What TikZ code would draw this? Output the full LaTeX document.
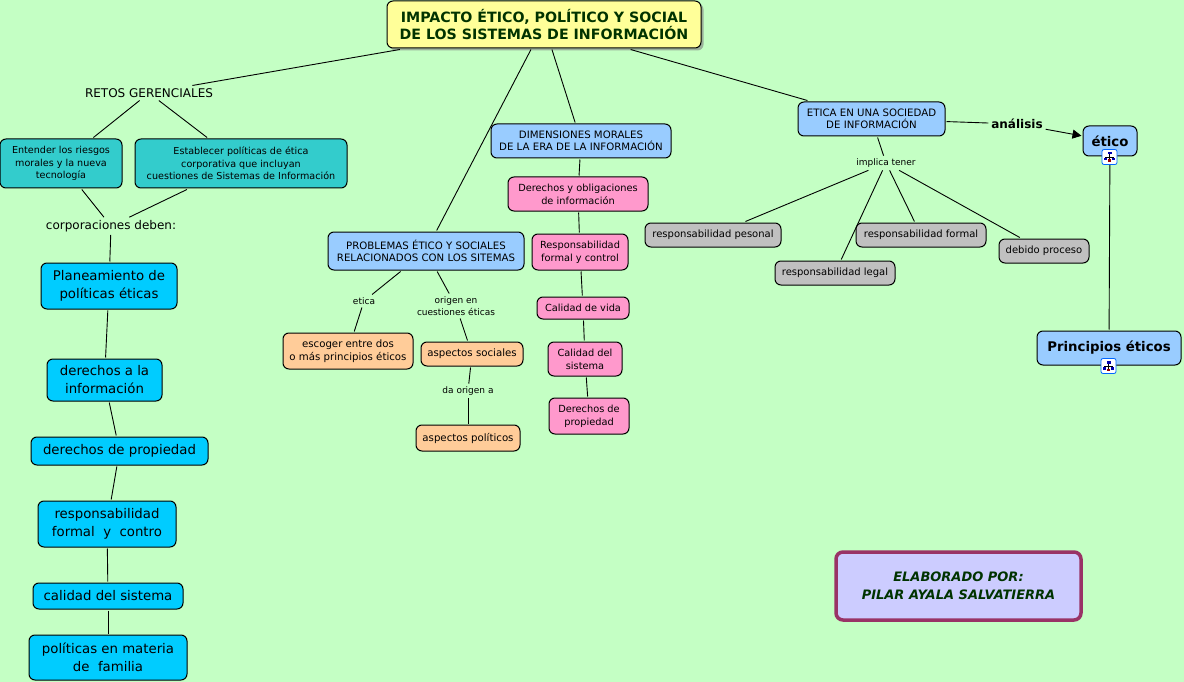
\documentclass[tikz,border=0pt]{standalone}
\usepackage{fontspec}
\setmainfont{DejaVu Sans}
\usetikzlibrary{arrows.meta,shadows}
\definecolor{bgc}{HTML}{C4FFC4}
\definecolor{yel}{HTML}{FFFF99}
\definecolor{blu}{HTML}{99CCFF}
\definecolor{tea}{HTML}{33CCCC}
\definecolor{cya}{HTML}{00CCFF}
\definecolor{pnk}{HTML}{FF99CC}
\definecolor{pch}{HTML}{FFCC99}
\definecolor{gry}{HTML}{C0C0C0}
\definecolor{lav}{HTML}{CCCCFF}
\definecolor{plum}{HTML}{993366}
\definecolor{dgreen}{HTML}{003300}
\newcommand{\fs}[2]{\fontsize{#1}{#2}\selectfont}
\tikzset{
  base/.style={draw=black,line width=1pt,rounded corners=6pt,align=center,inner sep=0pt,outer sep=1.5pt},
  rootbox/.style={base,fill=yel,text=dgreen,font=\fs{14.2}{17}\bfseries,drop shadow={shadow xshift=2.5pt,shadow yshift=-2.5pt,fill=gray,opacity=.6}},
  bluebox/.style={base,fill=blu,font=\fs{10.2}{11.5}},
  teabox/.style={base,fill=tea,font=\fs{9.6}{12.3}},
  cyabox/.style={base,fill=cya,font=\fs{13.3}{18}},
  pnkbox/.style={base,fill=pnk,font=\fs{9.8}{13}},
  pchbox/.style={base,fill=pch,font=\fs{10.2}{13}},
  grybox/.style={base,fill=gry,font=\fs{10}{13}},
  bigblue/.style={base,fill=blu,font=\fs{13.3}{16}\bfseries},
  creditbox/.style={draw=plum,line width=3.5pt,rounded corners=7pt,fill=lav,text=dgreen,align=center,inner sep=0pt,font=\fs{13}{17.5}\bfseries\itshape},
  lbl/.style={inner sep=1pt,outer sep=2pt,align=center},
  lblbig/.style={lbl,font=\fs{12}{14}},
  lblsmall/.style={lbl,font=\fs{9}{12}},
  lblsm/.style={lbl,font=\fs{9}{12}},
  link/.style={draw=black,line width=.9pt},
  iconbg/.style={draw=blue!60!cyan,fill=white,line width=.8pt,rounded corners=2pt,minimum size=15pt,inner sep=0pt},
}
\newcommand{\bx}[7]{\node[#6,minimum width={(#4-#2)*1pt},minimum height={(#5-#3)*1pt}] (#1) at ({(#2+#4)/2},{(#3+#5)/2}) {#7};}
\newcommand{\hicon}[3]{%
  \node[iconbg] (#1) at (#2,#3) {};
  \begin{scope}[shift={(#2,#3)}]
    \draw[black,line width=.5pt] (0,-3) -- (0,0) (-4,3) -- (-4,0) -- (4,0) -- (4,3) (0,0) -- (0,4);
    \fill[blue!70!black] (-2,-5) rectangle (2,-2.5);
    \fill[blue!70!black] (-5.5,1) rectangle (-2.5,3.5);
    \fill[blue!70!black] (2.5,1) rectangle (5.5,3.5);
    \fill[red!60!black] (-1.5,2.5) rectangle (1.5,5);
  \end{scope}}
\begin{document}
\begin{tikzpicture}[x=1pt,y=-1pt]
\useasboundingbox[fill=bgc] (0,0) rectangle (1184,682);
% nodes
\bx{root}{387}{1}{701}{48}{rootbox}{IMPACTO ÉTICO, POLÍTICO Y SOCIAL\\ DE LOS SISTEMAS DE INFORMACIÓN}
\node[lblbig] (retos) at (149,93) {RETOS GERENCIALES};
\bx{entender}{0}{139}{122}{188}{teabox}{Entender los riesgos\\morales y la nueva\\tecnología}
\bx{establecer}{135}{139}{347}{188}{teabox}{Establecer políticas de ética\\corporativa que incluyan\\cuestiones de Sistemas de Información}
\node[lblbig] (corp) at (111,226) {corporaciones deben:};
\bx{plan}{41}{263}{177}{309}{cyabox}{Planeamiento de\\ políticas éticas}
\bx{dinfo}{47}{359}{162}{401}{cyabox}{derechos a la\\ información}
\bx{dprop}{31}{437}{208}{465}{cyabox}{derechos de propiedad}
\bx{resp}{38}{501}{176}{547}{cyabox}{responsabilidad\\ formal~ y~ contro}
\bx{calsis}{33}{583}{183}{609}{cyabox}{calidad del sistema}
\bx{polfam}{29}{635}{187}{680}{cyabox}{políticas en materia\\ de~ familia}
\bx{prob}{328}{232}{524}{270}{bluebox}{PROBLEMAS ÉTICO Y SOCIALES\\RELACIONADOS CON LOS SITEMAS}
\node[lblsm] (etica) at (364,301) {etica};
\node[lblsm] (origen) at (456,306) {origen en\\cuestiones éticas};
\bx{escoger}{283}{333}{413}{369}{pchbox}{escoger entre dos\\o más principios éticos}
\bx{asoc}{421}{342}{523}{366}{pchbox}{aspectos sociales}
\node[lblsm] (daorigen) at (468,391) {da origen a};
\bx{apol}{416}{425}{520}{451}{pchbox}{aspectos políticos}
\bx{dim}{491}{124}{671}{158}{bluebox}{DIMENSIONES MORALES\\DE LA ERA DE LA INFORMACIÓN}
\bx{dob}{508}{177}{648}{211}{pnkbox}{Derechos y obligaciones\\de información}
\bx{rform}{532}{234}{628}{270}{pnkbox}{Responsabilidad\\formal y control}
\bx{cvida}{537}{297}{629}{319}{pnkbox}{Calidad de vida}
\bx{csis}{548}{342}{622}{376}{pnkbox}{Calidad del\\sistema}
\bx{dpr}{549}{398}{629}{434}{pnkbox}{Derechos de\\propiedad}
\bx{eticas}{798}{102}{945}{136}{bluebox}{ETICA EN UNA SOCIEDAD\\DE INFORMACIÓN}
\node[lblsm] (implica) at (886,163) {implica tener};
\bx{rpes}{645}{223}{781}{247}{grybox}{responsabilidad pesonal}
\bx{rleg}{775}{261}{895}{285}{grybox}{responsabilidad legal}
\bx{rfor}{856}{223}{986}{247}{grybox}{responsabilidad formal}
\bx{debido}{999}{239}{1089}{263}{grybox}{debido proceso}
\node[lbl,font=\fs{12}{14}\bfseries] (analisis) at (1017,124) {análisis};
\bx{etico}{1083}{126}{1137}{156}{bigblue}{ético}
\bx{princ}{1037}{331}{1181}{365}{bigblue}{Principios éticos}
\bx{credit}{836}{552}{1081}{620}{creditbox}{ELABORADO POR:\\PILAR AYALA SALVATIERRA}
% connectors
\draw[link] (root) -- (retos);
\draw[link] (root) -- (prob);
\draw[link] (root) -- (dim);
\draw[link] (root) -- (eticas);
\draw[link] (retos) -- (entender);
\draw[link] (retos) -- (establecer);
\draw[link] (entender) -- (corp);
\draw[link] (establecer) -- (corp);
\draw[link] (corp) -- (plan);
\draw[link] (plan) -- (dinfo);
\draw[link] (dinfo) -- (dprop);
\draw[link] (dprop) -- (resp);
\draw[link] (resp) -- (calsis);
\draw[link] (calsis) -- (polfam);
\draw[link] (prob) -- (etica);
\draw[link] (etica) -- (escoger);
\draw[link] (prob) -- (origen);
\draw[link] (origen) -- (asoc);
\draw[link] (asoc) -- (daorigen);
\draw[link] (daorigen) -- (apol);
\draw[link] (dim) -- (dob);
\draw[link] (dob) -- (rform);
\draw[link] (rform) -- (cvida);
\draw[link] (cvida) -- (csis);
\draw[link] (csis) -- (dpr);
\draw[link] (eticas) -- (implica);
\draw[link] (implica) -- (rpes);
\draw[link] (implica) -- (rleg);
\draw[link] (implica) -- (rfor);
\draw[link] (implica) -- (debido);
\draw[link] (eticas) -- (analisis);
\draw[link,-{Triangle[length=9pt,width=9pt]}] (analisis) -- (etico);
\draw[link] (etico) -- (princ);
\hicon{icona}{1109.5}{157}
\hicon{iconb}{1108.5}{366}
\end{tikzpicture}
\end{document}
